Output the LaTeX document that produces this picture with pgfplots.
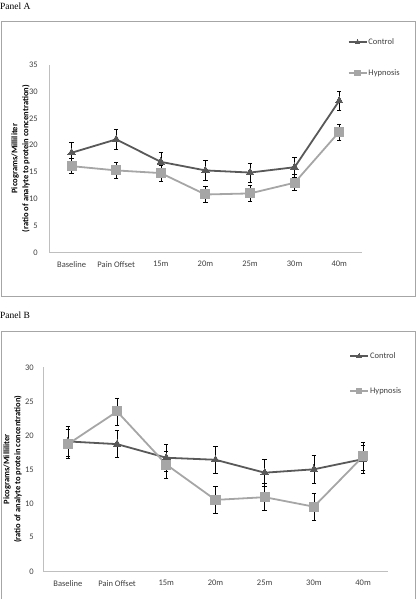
\documentclass[border=0pt]{standalone}
\usepackage{pgfplots}
\pgfplotsset{compat=1.18}
\usepackage{pgfplotstable}
\usepackage{fontspec}
\setmainfont{Carlito}
\newfontfamily\timesfont{Liberation Serif}
\definecolor{ctrl}{HTML}{595959}
\definecolor{hyp}{HTML}{A6A6A6}
\definecolor{axgray}{HTML}{BFBFBF}
\definecolor{txt}{HTML}{404040}

\pgfplotstableread{
x y e
0 18.6 1.9
1 21.1 1.8
2 16.9 1.8
3 15.3 1.9
4 14.9 1.8
5 15.9 1.8
6 28.3 1.8
}\ctrlA
\pgfplotstableread{
x y e
0 16.1 1.4
1 15.3 1.5
2 14.8 1.5
3 10.8 1.5
4 11.0 1.5
5 13.0 1.5
6 22.5 1.5
}\hypA
\pgfplotstableread{
x y e
0 19.1 2.15
1 18.7 2.0
2 16.7 2.0
3 16.4 2.0
4 14.5 2.0
5 15.0 2.1
6 16.5 2.1
}\ctrlB
\pgfplotstableread{
x y e
0 18.7 2.15
1 23.5 2.0
2 15.7 2.0
3 10.5 2.0
4 10.9 2.0
5 9.5 2.0
6 16.9 2.0
}\hypB

\pgfplotsset{
  excel/.style={
    scale only axis,
    axis lines=left,
    axis line style={-, axgray, line width=0.8pt},
    tick style={draw=none},
    xmin=-0.5, xmax=6.5, ymin=0,
    xtick={0,...,6},
    xticklabels={Baseline,Pain Offset,15m,20m,25m,30m,40m},
    /pgf/number format/assume math mode=true,
    tick label style={font=\fontsize{8.5}{10}\selectfont, text=txt},
    xticklabel style={yshift=-3.5pt},
    ylabel style={font=\bfseries\fontsize{8.5}{11}\selectfont, align=center, anchor=center},
    ylabel={Picograms/Milliliter\\(ratio of analyte to protein concentration)},
    legend style={draw=none, fill=none, font=\fontsize{8.5}{10}\selectfont, text=txt, anchor=north west, inner sep=0pt,
      nodes={inner sep=1pt}},
    legend cell align=left,
    legend image code/.code={\draw[mark repeat=2,mark phase=2,#1] plot coordinates {(0pt,0pt) (9pt,0pt) (18pt,0pt)};},
    legend image post style={mark size=2.6pt},
    clip=false,
  },
  ctrlstyle/.style={color=ctrl, line width=1.8pt, mark=triangle*, mark size=4.3pt, mark options={solid, fill=ctrl, draw=ctrl, line width=0pt},
    error bars/.cd, y dir=both, y explicit,
    error bar style={black, line width=0.6pt},
    error mark options={rotate=90, mark size=2.2pt, black, line width=0.6pt}},
  hypstyle/.style={color=hyp, line width=1.8pt, mark=square*, mark size=4.5pt, mark options={solid, fill=hyp, draw=hyp, line width=0pt},
    error bars/.cd, y dir=both, y explicit,
    error bar style={black, line width=0.6pt},
    error mark options={rotate=90, mark size=2.2pt, black, line width=0.6pt}},
}

\begin{document}
\begin{tikzpicture}[x=1pt,y=1pt]
\path[use as bounding box] (0,0) rectangle (417,599);
% panel labels and frames
\node[anchor=west, inner sep=0pt, font=\timesfont\fontsize{9.5}{11}\selectfont] at (0,593) {Panel A};
\node[anchor=west, inner sep=0pt, font=\timesfont\fontsize{9.5}{11}\selectfont] at (0,284) {Panel B};
\draw[gray!70, line width=0.8pt] (1.5,302.3) rectangle (415.5,577.3);
\draw[gray!70, line width=0.8pt] (1.5,-5) rectangle (415.5,268);

% Panel A
\begin{axis}[excel,
  at={(49.3pt,346.7pt)}, anchor=south west,
  width=312.2pt, height=187.3pt,
  ymax=35, ytick={0,5,...,35},
  yticklabel style={xshift=-6pt},
  ylabel style={at={(axis description cs:-0.092,0.5)}},
  legend style={at={(axis description cs:0.955,1.149)}, row sep=22pt},
]
\addplot+[ctrlstyle] table[x=x, y=y, y error=e]{\ctrlA};
\addlegendentry{Control}
\addplot+[hypstyle] table[x=x, y=y, y error=e]{\hypA};
\addlegendentry{Hypnosis}
\end{axis}

% Panel B
\begin{axis}[excel,
  at={(43.3pt,27.7pt)}, anchor=south west,
  width=344.4pt, height=204pt,
  ymax=30, ytick={0,5,...,30},
  yticklabel style={xshift=-4pt},
  ylabel style={at={(axis description cs:-0.089,0.5)}},
  legend style={at={(axis description cs:0.888,1.080)}, row sep=26pt},
]
\addplot+[ctrlstyle] table[x=x, y=y, y error=e]{\ctrlB};
\addlegendentry{Control}
\addplot+[hypstyle] table[x=x, y=y, y error=e]{\hypB};
\addlegendentry{Hypnosis}
\end{axis}
\end{tikzpicture}
\end{document}
